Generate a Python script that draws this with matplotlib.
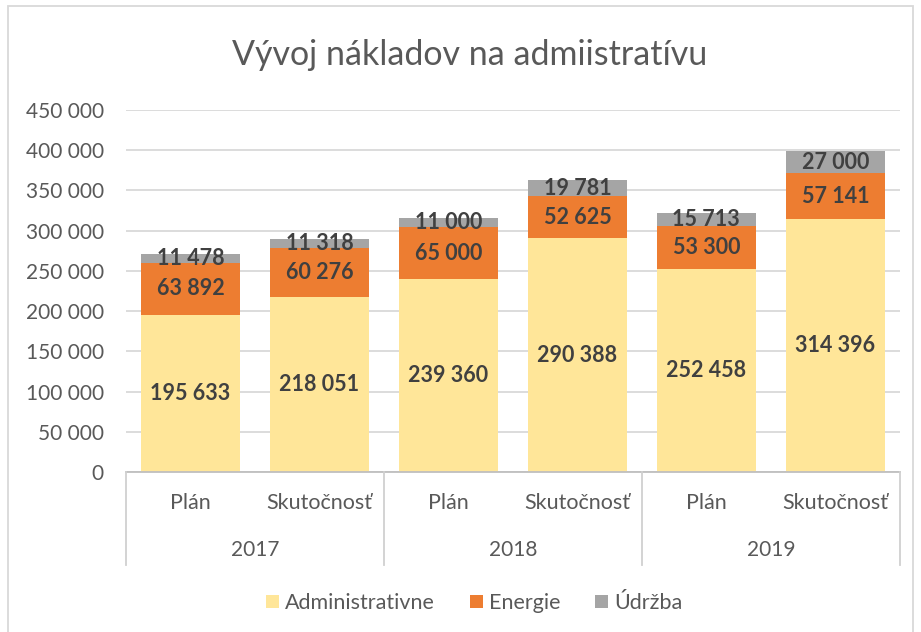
import numpy as np
import matplotlib.pyplot as plt
from matplotlib.ticker import FuncFormatter, MultipleLocator
from matplotlib.patches import Rectangle

# Data
years = ['2017', '2018', '2019']
kinds = ['Plán', 'Skutočnosť']
administrativne = [195633, 218051, 239360, 290388, 252458, 314396]
energie = [63892, 60276, 65000, 52625, 53300, 57141]
udrzba = [11478, 11318, 11000, 19781, 15713, 27000]

series = [('Administrativne', administrativne, '#FFE699'),
          ('Energie', energie, '#ED7D31'),
          ('Údržba', udrzba, '#A5A5A5')]

plt.rcParams['font.family'] = ['Lato', 'DejaVu Sans']
txt = '#595959'


def fmt(v, pos=None):
    return f'{int(v):,}'.replace(',', ' ')


fig = plt.figure(figsize=(9.21, 6.32), dpi=100)
ax = fig.add_axes([0.1368, 0.2532, 0.8402, 0.5728])

x = np.arange(len(administrativne))
bottom = np.zeros(len(x))
for name, vals, col in series:
    bars = ax.bar(x, vals, 0.77, bottom=bottom, color=col, label=name, zorder=2)
    ax.bar_label(bars, labels=[fmt(v) for v in vals], label_type='center',
                 fontsize=15.5, fontweight='bold', color='#404040')
    bottom += np.array(vals)

ax.set_xlim(-0.5, len(x) - 0.5)
ax.set_ylim(0, 450000)
ax.yaxis.set_major_locator(MultipleLocator(50000))
ax.yaxis.set_major_formatter(FuncFormatter(fmt))
ax.grid(axis='y', color='#D9D9D9', linewidth=1.3, zorder=0)
ax.set_axisbelow(True)
for s in ax.spines.values():
    s.set_visible(False)
ax.tick_params(axis='y', length=0, labelsize=15, labelcolor=txt, pad=16)
ax.set_xticks([])

# category axis: baseline, group separators, labels
trans = ax.get_xaxis_transform()
ax.plot([-0.5, len(x) - 0.5], [0, 0], color='#BFBFBF', lw=1.3, transform=trans, clip_on=False)
for b in np.arange(-0.5, len(x), 2):
    ax.plot([b, b], [0, -0.257], color='#D0D0D0', lw=1.3, transform=trans, clip_on=False)
for i in x:
    ax.text(i, -0.086, kinds[i % 2], ha='center', va='center', fontsize=15.5,
            color=txt, transform=trans)
for g, yr in enumerate(years):
    ax.text(2 * g + 0.5, -0.216, yr, ha='center', va='center', fontsize=15,
            color=txt, transform=trans)

fig.text(0.51, 0.913, 'Vývoj nákladov na admiistratívu', ha='center', va='center',
         fontsize=24.5, color=txt)

leg = fig.legend(loc='center', bbox_to_anchor=(0.515, 0.046), ncol=3, frameon=False,
                 fontsize=15.5, handlelength=0.6, handleheight=0.6, handletextpad=0.3,
                 columnspacing=1.6)
for t in leg.get_texts():
    t.set_color(txt)

fig.patches.append(Rectangle((0.009, -0.01), 0.982, 1.0, transform=fig.transFigure,
                             fill=False, edgecolor='#D9D9D9', linewidth=1.3))

fig.savefig('out.png', dpi=100)
